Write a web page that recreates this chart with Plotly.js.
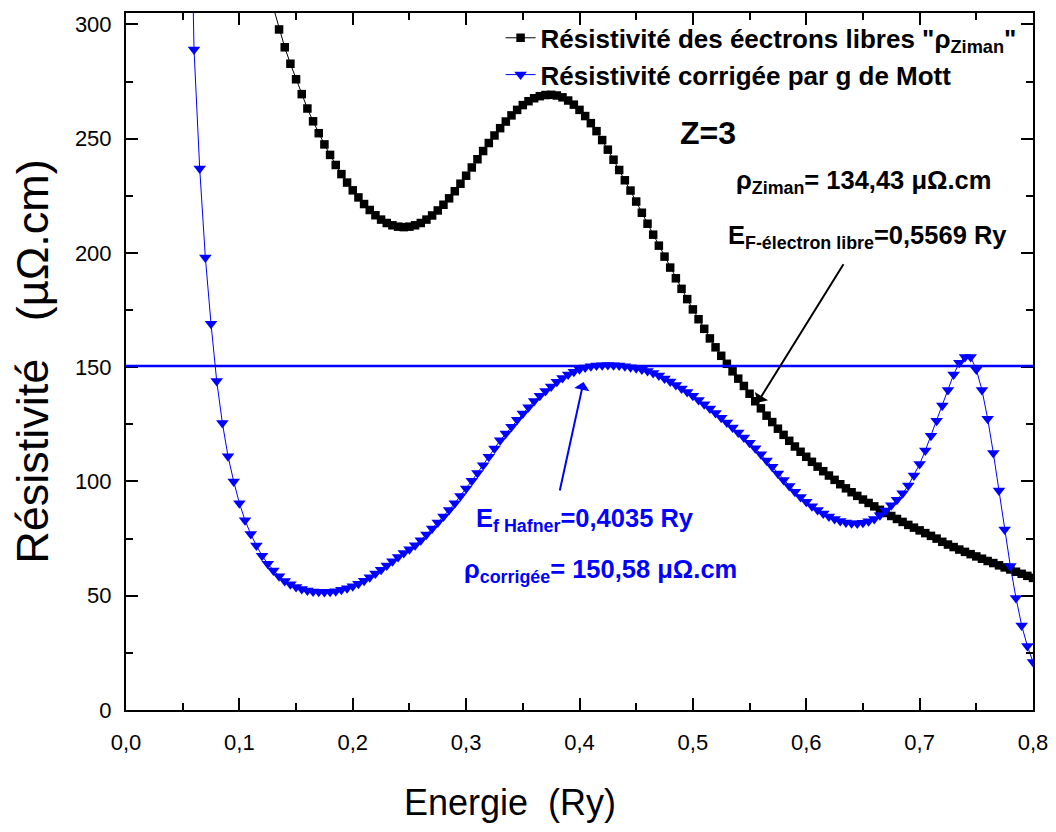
<!DOCTYPE html>
<html>
<head>
<meta charset="utf-8">
<script src="https://cdn.plot.ly/plotly-3.0.1.min.js"></script>
<style>html,body{margin:0;padding:0;background:#fff}#chart{width:1056px;height:832px}</style>
</head>
<body>
<div id="chart"></div>
<script>
// Energy grid (Ry)
const energie = [0.055,0.06,0.065,0.07,0.075,0.08,0.085,0.09,0.095,0.10,
0.105,0.11,0.115,0.12,0.125,0.13,0.135,0.14,0.145,0.15,
0.155,0.16,0.165,0.17,0.175,0.18,0.185,0.19,0.195,0.20,
0.205,0.21,0.215,0.22,0.225,0.23,0.235,0.24,0.245,0.25,
0.255,0.26,0.265,0.27,0.275,0.28,0.285,0.29,0.295,0.30,
0.305,0.31,0.315,0.32,0.325,0.33,0.335,0.34,0.345,0.35,
0.355,0.36,0.365,0.37,0.375,0.38,0.385,0.39,0.395,0.40,
0.405,0.41,0.415,0.42,0.425,0.43,0.435,0.44,0.445,0.45,
0.455,0.46,0.465,0.47,0.475,0.48,0.485,0.49,0.495,0.50,
0.505,0.51,0.515,0.52,0.525,0.53,0.535,0.54,0.545,0.55,
0.555,0.56,0.565,0.57,0.575,0.58,0.585,0.59,0.595,0.60,
0.605,0.61,0.615,0.62,0.625,0.63,0.635,0.64,0.645,0.65,
0.655,0.66,0.665,0.67,0.675,0.68,0.685,0.69,0.695,0.70,
0.705,0.71,0.715,0.72,0.725,0.73,0.735,0.74,0.745,0.75,
0.755,0.76,0.765,0.77,0.775,0.78,0.785,0.79,0.795,0.80];

// Free-electron (Ziman) resistivity, µΩ.cm
const rhoZiman = [null,null,null,null,null,null,null,null,null,null,
null,null,null,null,316,307,297.8,290,282.8,276,
269.5,263.2,257.6,252.4,247.5,242.9,238.5,234.5,230.8,227.4,
224.3,221.4,218.8,216.5,214.6,213.1,212.1,211.5,211.3,211.5,
212.1,213.1,214.6,216.4,218.6,221.1,223.9,227,230.3,233.8,
237.4,241,244.6,248.1,251.4,254.6,257.5,260.2,262.6,264.7,
266.4,267.7,268.6,269.1,269.2,268.9,268.1,266.7,264.9,262.6,
259.9,256.8,253.3,249.4,245.2,240.8,236.3,231.8,227.3,222.5,
217.6,212.8,208,203.2,198.4,193.6,188.9,184.3,179.8,175.3,
171,166.8,162.6,158.7,155,151.5,148.2,145,141.8,138.4,
135.1,132,128.8,126,123.1,120.4,117.8,115.3,113,110.8,
108.6,106.5,104.5,102.6,100.7,98.8,97,95.3,93.7,92.1,
90.6,89.1,87.6,86.2,84.9,83.6,82.3,81,79.8,78.6,
77.4,76.2,75,73.6,72.4,71.3,70.2,69.2,68.2,67.2,
66.2,65.2,64.3,63.3,62.4,61.5,60.5,59.6,58.7,57.8];

// Resistivity corrected by Mott's g factor, µΩ.cm
const rhoMott = [420,289,237,198,169,144,125.6,111,100,90.5,
83,77,72,67.5,64,61,58.5,56.5,55,53.8,
53,52.3,51.9,51.7,51.6,51.7,52,52.6,53.3,54.2,
55.3,56.6,58.1,59.7,61.4,63.2,65.1,67,68.7,70.3,
72.1,74.3,76.8,79.4,82,84.7,87.5,90.5,93.6,96.9,
100.3,103.7,107.1,110.8,114.4,118,121,124,127,129.8,
132.5,135.2,137.5,139.6,141.6,143.6,145.3,146.8,148,149.1,
149.9,150.4,150.7,150.9,151,150.9,150.7,150.4,150,149.5,
149,148.3,147.5,146.4,145.1,143.7,142.2,140.7,139.2,137.5,
135.7,133.8,131.9,130,127.9,125.8,123.6,121.4,119.2,116.9,
114.5,111.9,109.2,106.4,103.5,100.7,98,95.5,93.2,91.1,
89.2,87.5,86,84.7,83.6,82.7,82.1,81.7,81.6,81.9,
82.6,83.6,85.2,87.3,89.6,92,94.8,98.2,102.6,107.6,
113.5,120,126.6,133.3,140,146.8,151.9,154.5,154.5,149,
140,127.5,112.5,96,79,63,49,37,28,21];

// Reference values quoted on the chart
const EF_libre = 0.5569;
const rhoZimanEF = 134.43;
const EF_hafner = 0.4035;
const rhoCorrigee = 150.58;
const arrowHafnerY = 143.5;

const seriesNames = ['Résistivité des éectrons libres "ρ<sub>Ziman</sub>"',
                     'Résistivité corrigée par g de Mott'];
const xTitle = 'Energie\u00A0\u00A0(Ry)';
const yTitle = 'Résistivité\u00A0\u00A0\u00A0(µΩ.cm)';

const FONT = 'Liberation Sans, Arial, Helvetica, sans-serif';

const traces = [
  {
    x: energie, y: rhoZiman, name: seriesNames[0],
    type: 'scatter', mode: 'lines+markers', connectgaps: false,
    line: {color: '#000000', width: 1},
    marker: {symbol: 'square', size: 8.5, color: '#000000'}
  },
  {
    x: energie, y: rhoMott, name: seriesNames[1],
    type: 'scatter', mode: 'lines+markers',
    line: {color: '#0000FF', width: 1},
    marker: {symbol: 'triangle-down', size: 11, color: '#0000FF'}
  }
];

const axisCommon = {
  showgrid: false, zeroline: false,
  showline: true, linecolor: '#000', linewidth: 2,
  mirror: 'allticks', ticks: 'inside', ticklen: 12, tickwidth: 2, tickcolor: '#000'
};

const layout = {
  width: 1056, height: 832,
  margin: {l: 126, r: 23, t: 13, b: 122},
  paper_bgcolor: '#fff', plot_bgcolor: '#fff',
  separators: ',.',
  font: {family: FONT, color: '#000'},
  showlegend: true,
  legend: {
    x: 0.413, y: 0.998, xanchor: 'left', yanchor: 'top',
    bgcolor: 'rgba(0,0,0,0)', borderwidth: 0,
    font: {family: FONT, size: 26, color: '#000', weight: 'bold'},
    tracegroupgap: 0
  },
  xaxis: Object.assign({}, axisCommon, {
    range: [0, 0.8], dtick: 0.1, tick0: 0, tickformat: '.1f',
    ticklabelstandoff: 12,
    tickfont: {family: FONT, size: 22, color: '#000'},
    minor: {dtick: 0.05, ticks: 'inside', ticklen: 7, tickwidth: 2, tickcolor: '#000'}
  }),
  yaxis: Object.assign({}, axisCommon, {
    range: [0, 305], dtick: 50, tick0: 0, tickformat: 'd',
    ticklabelstandoff: 8,
    tickfont: {family: FONT, size: 22, color: '#000'},
    minor: {dtick: 25, ticks: 'inside', ticklen: 7, tickwidth: 2, tickcolor: '#000'},
    title: {text: yTitle, font: {family: FONT, size: 45, color: '#000'}, standoff: 12}
  }),
  shapes: [
    {type: 'line', xref: 'paper', x0: 0, x1: 1, yref: 'y', y0: rhoCorrigee, y1: rhoCorrigee,
     line: {color: '#0000FF', width: 2.5}}
  ],
  annotations: [
    {xref: 'paper', yref: 'paper', x: 0.4234, y: -0.1334, xanchor: 'center', yanchor: 'middle', showarrow: false,
     text: xTitle, font: {family: FONT, size: 36, color: '#000'}},
    {xref: 'x', yref: 'y', x: 0.487, y: 252.5, xanchor: 'left', yanchor: 'middle', showarrow: false,
     text: '<b>Z=3</b>', font: {family: FONT, size: 32, color: '#000'}},
    {xref: 'x', yref: 'y', x: 0.536, y: 231, xanchor: 'left', yanchor: 'middle', showarrow: false,
     text: '<b>ρ<sub>Ziman</sub>= 134,43 μΩ.cm</b>', font: {family: FONT, size: 25.5, color: '#000'}},
    {xref: 'x', yref: 'y', x: 0.529, y: 207, xanchor: 'left', yanchor: 'middle', showarrow: false,
     text: '<b>E<sub>F-électron libre</sub>=0,5569 Ry</b>', font: {family: FONT, size: 25.5, color: '#000'}},
    {xref: 'x', yref: 'y', x: 0.307, y: 83.2, xanchor: 'left', yanchor: 'middle', showarrow: false,
     text: '<b>E<sub>f Hafner</sub>=0,4035 Ry</b>', font: {family: FONT, size: 25.5, color: '#0000FF'}},
    {xref: 'x', yref: 'y', x: 0.296, y: 60.8, xanchor: 'left', yanchor: 'middle', showarrow: false,
     text: '<b>ρ<sub>corrigée</sub>= 150,58 μΩ.cm</b>', font: {family: FONT, size: 25.5, color: '#0000FF'}},
    {xref: 'x', yref: 'y', x: EF_libre, y: rhoZimanEF, text: '', showarrow: true,
     ax: 87, ay: -140, arrowhead: 1, arrowsize: 1.3, arrowwidth: 2, arrowcolor: '#000'},
    {xref: 'x', yref: 'y', x: EF_hafner, y: arrowHafnerY, text: '', showarrow: true,
     ax: -24, ay: 110, arrowhead: 1, arrowsize: 1.3, arrowwidth: 2, arrowcolor: '#0000FF'}
  ]
};

Plotly.newPlot('chart', traces, layout, {displayModeBar: false, staticPlot: true});
</script>
</body>
</html>
